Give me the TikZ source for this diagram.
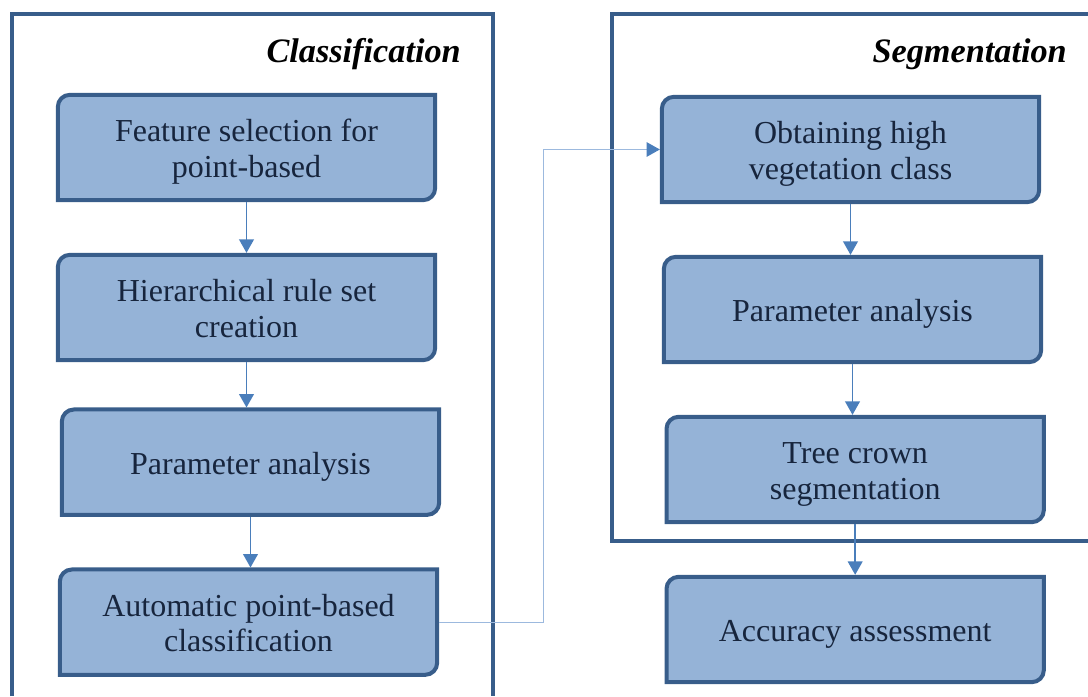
\documentclass[tikz,border=0pt]{standalone}
\usepackage{fontspec}
\setmainfont{Liberation Serif}
\usepackage{tikz}
\usetikzlibrary{arrows.meta, positioning, backgrounds}
\definecolor{boxfill}{HTML}{95B3D7}
\definecolor{boxline}{HTML}{385D8A}
\definecolor{flowblue}{HTML}{4A7EBB}
\definecolor{linkblue}{HTML}{9CB9DE}
\definecolor{boxtext}{HTML}{17253D}

\begin{document}
\begin{tikzpicture}[x=0.75pt,y=0.75pt,node distance=120pt,on grid,
        >={Triangle[width=11pt,length=10pt]},
        stepbox/.style={minimum width=283pt,minimum height=79pt,inner sep=2pt,outer sep=0pt,
            align=center,text=boxtext,font=\fontsize{24}{26.5}\selectfont,
            text height=24pt,text depth=6pt},
        twoline/.style={stepbox,text height=50.5pt},
        boxshape/.style={fill=boxfill,draw=boxline,line width=3pt},
        frame/.style={draw=boxline,line width=3pt},
        title/.style={font=\fontsize{25.7}{30}\selectfont\bfseries\itshape,anchor=base east,inner sep=0pt},
        flow/.style={->,draw=flowblue,line width=1.1pt,shorten <=1.5pt,shorten >=1.5pt},
        link/.style={-{Triangle[width=11pt,length=10pt,color=flowblue]},draw=linkblue,
            line width=0.8pt,shorten <=1.5pt,shorten >=1.5pt}]
    \useasboundingbox (0,0) rectangle (1088,696);

    % frames
    \draw[frame] (12,0) |- (493,682) -- (493,0);
    \draw[frame] (1088,682) -| (612,155) -- (1088,155);
    \node[title] (t_c) at (461,633) {Classification};
    \node[title] (t_s) at (1067,633) {Segmentation};

    % classification
    \node[twoline] (c_1) at (246.5,548.5) {Feature selection for\\point-based};
    \node[twoline] (c_2) [below=of c_1] {Hierarchical rule set\\creation};
    \node[stepbox] (c_3) [below=116pt of c_2, xshift=3pt] {Parameter analysis};
    \node[twoline] (c_4) [below=of c_3, xshift=-1.5pt] {Automatic point-based\\classification};

    % segmentation
    \node[twoline] (s_1) at (850.5,546.5) {Obtaining high\\vegetation class};
    \node[stepbox] (s_2) [below=of s_1, xshift=1.5pt] {Parameter analysis};
    \node[twoline] (s_3) [below=of s_2, xshift=2pt] {Tree crown\\segmentation};
    \node[stepbox] (acc) [below=of s_3] {Accuracy assessment};

    \begin{scope}[on background layer]
        \foreach \n in {c_1,c_2,c_3,c_4,s_1,s_2,s_3,acc}
            \filldraw[boxshape] (\n.north east) -- ([xshift=9pt]\n.north west)
                arc[start angle=90,end angle=180,radius=9pt] -- (\n.south west)
                -- ([xshift=-9pt]\n.south east) arc[start angle=270,end angle=360,radius=9pt] -- cycle;
    \end{scope}

    \draw[flow] (c_1.south) -- (c_1.south |- c_2.north);
    \draw[flow] (c_2.south) -- (c_2.south |- c_3.north);
    \draw[flow] (c_3.south) -- (c_3.south |- c_4.north);
    \draw[flow] (s_1.south) -- (s_1.south |- s_2.north);
    \draw[flow] (s_2.south) -- (s_2.south |- s_3.north);
    \draw[flow] (s_3.south) -- (s_3.south |- acc.north);
    \draw[link] (c_4.east) -- ++(80pt,0) |- (s_1.west);
\end{tikzpicture}
\end{document}
